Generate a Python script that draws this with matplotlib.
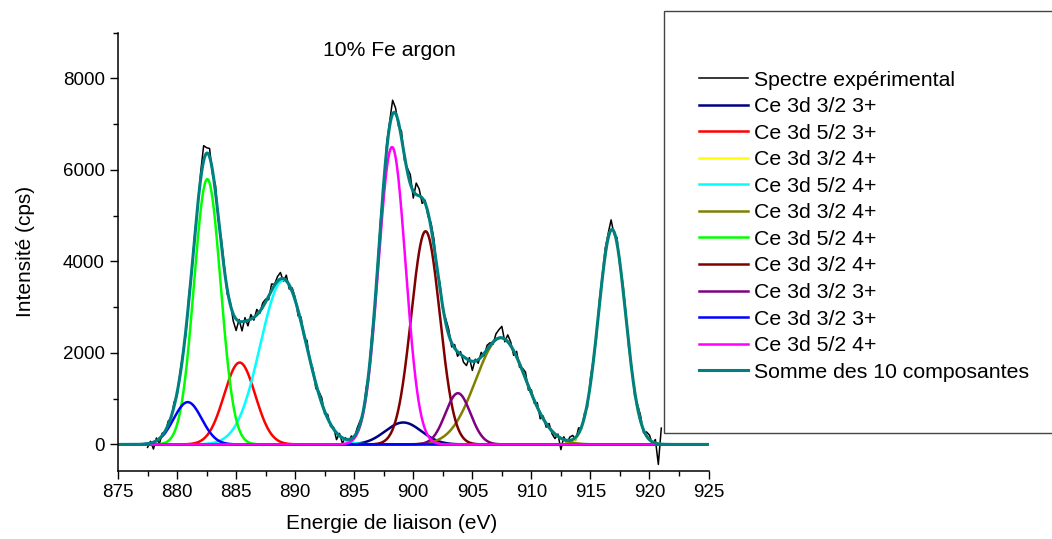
import numpy as np
import matplotlib.pyplot as plt
from matplotlib.patches import Rectangle

plt.rcParams['font.family'] = ['Liberation Sans', 'DejaVu Sans']

# composantes du fit (gaussiennes), dans l'ordre de la legende
noms = ['Ce 3d 3/2 3+', 'Ce 3d 5/2 3+', 'Ce 3d 3/2 4+', 'Ce 3d 5/2 4+', 'Ce 3d 3/2 4+',
        'Ce 3d 5/2 4+', 'Ce 3d 3/2 4+', 'Ce 3d 3/2 3+', 'Ce 3d 3/2 3+', 'Ce 3d 5/2 4+']
couleurs = ['#000080', '#ff0000', '#ffff00', '#00ffff', '#808000',
            '#00ff00', '#800000', '#800080', '#0000ff', '#ff00ff']
centres = [899.15, 885.3, 916.83, 889.0, 907.42, 882.56, 901.04, 903.78, 880.9, 898.2]
hauteurs = [480, 1790, 4700, 3590, 2330, 5800, 4660, 1120, 925, 6500]
fwhm = [3.6, 3.1, 2.7, 4.6, 5.0, 2.65, 2.85, 2.5, 2.8, 2.7]

# spectre experimental : ecart au fit lu sur la figure, pas de 0.25 eV a partir de 877.5 eV
exp_debut = 877.5
exp_pas = 0.25
residus = [
    -80, 40, -150, 60,
    -120, 50, -60, 80,
    -40, 90, -70, 60,
    40, -90, 110, -60,
    60, -40, 150, 330,
    120, 180, -80, 150,
    -60, 120, 80, -100,
    60, -150, -250, 40,
    -200, 80, -120, 100,
    -60, 120, -40, 90,
    60, -80, 140, 20,
    100, 140, -60, 120,
    -90, 80, 60, -120,
    110, -70, 150, -40,
    80, -110, 60, 120,
    -60, 90, -50, 40,
    -150, 50, -120, 30,
    -100, 60, -40, 80,
    70, -60, 120, -30,
    150, -80, 60, 110,
    -100, 140, 90, 300,
    120, -80, 150, -100,
    80, 200, -150, 250,
    150, -120, 60, -80,
    100, 150, -80, 120,
    -60, 90, 120, -90,
    80, -100, 60, -120,
    -150, 60, -200, 40,
    -80, 100, -60, 90,
    60, -50, 120, 180,
    250, -60, 150, 80,
    -100, 120, -80, 60,
    140, -90, 80, -60,
    100, -120, 60, -80,
    90, -60, -100, 50,
    -250, 60, -80, 70,
    90, -60, 120, -40,
    80, -100, 130, 60,
    -90, 120, 80, 150,
    100, 220, -60, 130,
    -80, 120, 90, -100,
    60, -110, 80, 120,
    -60, 90, 100, -50,
    80, -450, 350,
]


def pic(x, c, h, w):
    s = w / 2.3548
    return h * np.exp(-0.5 * ((x - c) / s) ** 2)


def somme(x):
    tot = np.zeros_like(x)
    for c, h, w in zip(centres, hauteurs, fwhm):
        tot += pic(x, c, h, w)
    return tot


fig = plt.figure(figsize=(10.52, 5.39), dpi=100)
ax = fig.add_axes([0.1122, 0.1262, 0.5613, 0.8131])

x = np.linspace(875, 925, 2001)
x_exp = exp_debut + exp_pas * np.arange(len(residus))
y_exp = somme(x_exp) + np.array(residus)

l_exp, = ax.plot(x_exp, y_exp, color='black', lw=1.1)
lignes = [l_exp]
for c, h, w, col in zip(centres, hauteurs, fwhm, couleurs):
    l, = ax.plot(x, pic(x, c, h, w), color=col, lw=1.8)
    lignes.append(l)
l_som, = ax.plot(x, somme(x), color='#008080', lw=2.2)
lignes.append(l_som)

ax.set_xlim(875, 925)
ax.set_ylim(-580, 9000)
ax.set_xticks(np.arange(875, 926, 5))
ax.set_xticks(np.arange(875, 926, 2.5), minor=True)
ax.set_yticks(np.arange(0, 8001, 2000))
ax.set_yticks(np.arange(0, 9001, 1000), minor=True)
ax.tick_params(which='major', direction='out', length=6, width=1, labelsize=13.5)
ax.tick_params(which='minor', direction='out', length=3.5, width=1)
for s in ['top', 'right']:
    ax.spines[s].set_visible(False)
for s in ['left', 'bottom']:
    ax.spines[s].set_linewidth(1.1)

ax.set_xlabel('Energie de liaison (eV)', fontsize=15, labelpad=9)
ax.xaxis.label.set_x(0.464)
ax.set_ylabel('Intensité (cps)', fontsize=15, labelpad=20)
ax.text(0.459, 0.9605, '10% Fe argon', transform=ax.transAxes, ha='center', va='center', fontsize=15.2)

# cadre de la legende (deborde a droite)
fig.patches.append(Rectangle((0.6312, 0.1967), 0.5, 0.783, transform=fig.transFigure,
                             facecolor='white', edgecolor='#444444', lw=1, zorder=1))

etiquettes = ['Spectre expérimental'] + noms + ['Somme des 10 composantes']
fig.legend(lignes, etiquettes, loc='upper left', bbox_to_anchor=(0.6644, 0.869),
           frameon=False, fontsize=15.3, handlelength=2.3, handletextpad=0.3,
           labelspacing=0.355, borderpad=0, borderaxespad=0)

fig.savefig('out.png', dpi=100)
